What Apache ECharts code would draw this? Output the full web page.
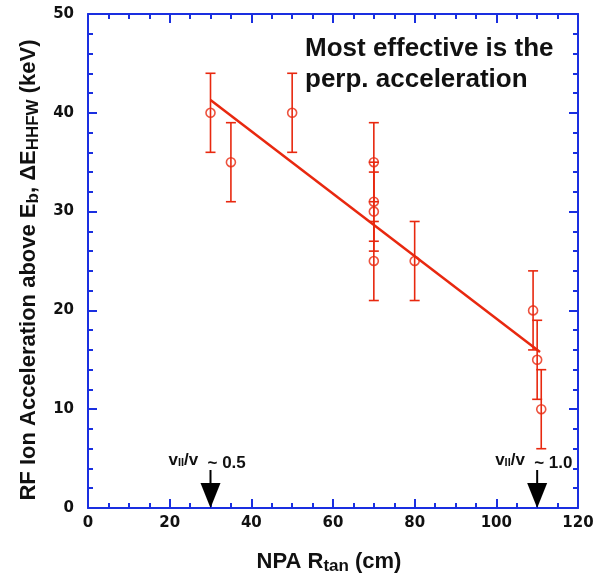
<!DOCTYPE html>
<html>
<head>
<meta charset="utf-8">
<script src="https://cdn.jsdelivr.net/npm/echarts@6/dist/echarts.min.js"></script>
<style>
  html, body { margin: 0; padding: 0; background: #fff; }
  #chart { width: 607px; height: 577px; }
</style>
</head>
<body>
<div id="chart"></div>
<script>
// NPA tangency radius (cm), RF acceleration (keV), error (keV)
var rTan = [30, 35, 50, 70, 70, 70, 70, 80, 109, 110, 111];
var dE = [40, 35, 40, 35, 31, 30, 25, 25, 20, 15, 10];
var dErr = [4, 4, 4, 4, 4, 4, 4, 4, 4, 4, 4];
// linear fit end points
var fitX = [30, 110.7];
var fitY = [41.3, 15.8];
// arrow markers
var arrowX = [30, 110];
var arrowVal = ['0.5', '1.0'];

var red = '#e8280f';
var blue = '#1a2fe0';
var tickFont = 'DejaVu Sans';
var labelFont = 'Liberation Sans';

var myChart = echarts.init(document.getElementById('chart'));

var points = rTan.map(function (x, i) { return [x, dE[i]]; });
var bars = rTan.map(function (x, i) { return [x, dE[i], dErr[i]]; });
var fit = fitX.map(function (x, i) { return [x, fitY[i]]; });
var arrows = arrowX.map(function (x) { return [x, 0]; });

function axisCommon(show) {
    return {
        axisLine: { show: true, onZero: false, lineStyle: { color: blue, width: 2 } },
        axisTick: { show: true, inside: true, length: 9, lineStyle: { color: blue, width: 2 } },
        minorTick: { show: true, length: 5, lineStyle: { color: blue, width: 2 } },
        splitLine: { show: false },
        axisLabel: {
            show: show,
            color: '#111',
            fontFamily: tickFont,
            fontWeight: 'bold',
            fontSize: 15
        }
    };
}

function nameStyle(size, pad) {
    return {
        color: '#111', fontFamily: labelFont, fontWeight: 'bold', fontSize: size,
        padding: pad,
        rich: { s: { fontFamily: labelFont, fontWeight: 'bold', fontSize: size - 5, padding: [10, 0, 0, 0], color: '#111' } }
    };
}

var xBottom = Object.assign(axisCommon(true), {
    type: 'value', min: 0, max: 120, interval: 20, position: 'bottom',
    name: 'NPA R{s|tan} (cm)', nameLocation: 'middle', nameGap: 40,
    nameTextStyle: nameStyle(22, [0, 8, 0, 0])
});
xBottom.minorTick.splitNumber = 4;
xBottom.axisLabel.margin = 8;

var xTop = Object.assign(axisCommon(false), {
    type: 'value', min: 0, max: 120, interval: 20, position: 'top'
});
xTop.minorTick.splitNumber = 4;

var yLeft = Object.assign(axisCommon(true), {
    type: 'value', min: 0, max: 50, interval: 10, position: 'left',
    name: 'RF Ion Acceleration above E{s|b}, ΔE{s|HHFW} (keV)',
    nameLocation: 'middle', nameGap: 44, nameRotate: 90,
    nameTextStyle: nameStyle(22, [0, 18, 0, 0])
});
yLeft.minorTick.splitNumber = 5;
yLeft.axisLabel.margin = 14;

var yRight = Object.assign(axisCommon(false), {
    type: 'value', min: 0, max: 50, interval: 10, position: 'right'
});
yRight.minorTick.splitNumber = 5;

var option = {
    animation: false,
    backgroundColor: '#fff',
    grid: { left: 88, right: 29, top: 14, bottom: 69, outerBoundsMode: 'none', containLabel: false },
    xAxis: [xBottom, xTop],
    yAxis: [yLeft, yRight],
    graphic: [{
        type: 'text', left: 305, top: 33,
        style: {
            text: 'Most effective is the\nperp. acceleration',
            fontFamily: labelFont, fontWeight: 'bold', fontSize: 26,
            fill: '#111', lineHeight: 31
        }
    }],
    series: [
        {
            type: 'line',
            data: fit,
            symbol: 'none',
            lineStyle: { color: red, width: 2.5 },
            z: 3
        },
        {
            type: 'custom',
            data: bars,
            renderItem: function (params, api) {
                var x = api.value(0), y = api.value(1), e = api.value(2);
                var top = api.coord([x, y + e]);
                var bot = api.coord([x, y - e]);
                var hw = 5;
                var st = { stroke: red, lineWidth: 1.6 };
                return {
                    type: 'group',
                    children: [
                        { type: 'line', shape: { x1: top[0], y1: top[1], x2: bot[0], y2: bot[1] }, style: st },
                        { type: 'line', shape: { x1: top[0] - hw, y1: top[1], x2: top[0] + hw, y2: top[1] }, style: st },
                        { type: 'line', shape: { x1: bot[0] - hw, y1: bot[1], x2: bot[0] + hw, y2: bot[1] }, style: st }
                    ]
                };
            },
            z: 2
        },
        {
            type: 'scatter',
            data: points,
            symbol: 'circle',
            symbolSize: 9,
            itemStyle: { color: 'none', borderColor: red, borderWidth: 1.6 },
            z: 4
        },
        {
            type: 'custom',
            data: arrows,
            clip: false,
            renderItem: function (params, api) {
                var p = api.coord([api.value(0), api.value(1)]);
                var x = p[0], y = p[1];
                return {
                    type: 'group',
                    children: [
                        { type: 'line', shape: { x1: x, y1: y - 38, x2: x, y2: y - 24 }, style: { stroke: '#000', lineWidth: 2 } },
                        { type: 'polygon', shape: { points: [[x - 10, y - 25], [x + 10, y - 25], [x, y]] }, style: { fill: '#000' } },
                        {
                            type: 'text', x: x - 42, y: y - 56,
                            style: {
                                text: 'v{s|II}/v',
                                fontFamily: labelFont, fontWeight: 'bold', fontSize: 17, fill: '#111',
                                rich: { s: { fontFamily: labelFont, fontWeight: 'bold', fontSize: 11, fill: '#111', padding: [5, 0, 0, 0] } }
                            }
                        },
                        {
                            type: 'text', x: x - 3, y: y - 53,
                            style: {
                                text: '~ ' + arrowVal[params.dataIndex],
                                fontFamily: labelFont, fontWeight: 'bold', fontSize: 17, fill: '#111'
                            }
                        }
                    ]
                };
            },
            z: 5
        }
    ]
};

myChart.setOption(option);
window.addEventListener('resize', function () {
    myChart.resize();
});
</script>
</body>
</html>
